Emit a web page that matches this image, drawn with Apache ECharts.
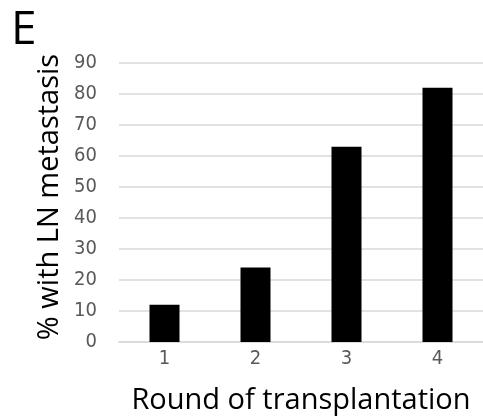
<!DOCTYPE html>
<html>
<head>
<meta charset="utf-8">
<script src="https://cdn.jsdelivr.net/npm/echarts@6/dist/echarts.min.js"></script>
<style>
  html, body { margin: 0; padding: 0; background: #fff; }
  #chart { width: 483px; height: 420px; }
</style>
</head>
<body>
<div id="chart"></div>
<script>
// data
const rounds = ['1', '2', '3', '4'];
const lnPercent = [12, 24, 63, 82];
const yTicks = { min: 0, max: 90, interval: 10 };

const narrow = "'Liberation Sans Narrow', 'DejaVu Sans Condensed', sans-serif";
const chart = echarts.init(document.getElementById('chart'));
chart.setOption({
  animation: false,
  grid: { left: 119, right: 0, top: 63, bottom: 68 },
  xAxis: {
    type: 'category',
    data: rounds,
    name: 'Round of transplantation',
    nameLocation: 'middle',
    nameGap: 44,
    nameTextStyle: { color: '#000', fontSize: 29, fontFamily: "'Open Sans', sans-serif" },
    axisLine: { lineStyle: { color: '#d9d9d9', width: 1.5 } },
    axisTick: { show: false },
    axisLabel: { color: '#595959', fontSize: 20, fontFamily: narrow, margin: 7 }
  },
  yAxis: {
    type: 'value',
    min: yTicks.min,
    max: yTicks.max,
    interval: yTicks.interval,
    axisLine: { show: false },
    axisTick: { show: false },
    axisLabel: { color: '#595959', fontSize: 20, fontFamily: narrow, margin: 22 },
    splitLine: { lineStyle: { color: '#d9d9d9', width: 1.5 } }
  },
  series: [{
    type: 'bar',
    data: lnPercent,
    barWidth: 30,
    itemStyle: { color: '#000' }
  }],
  graphic: [
    {
      type: 'text', left: 11, top: 8,
      style: { text: 'E', fontSize: 46, fill: '#000', fontFamily: "'Open Sans', sans-serif" }
    },
    {
      type: 'text', x: 50, y: 197, rotation: Math.PI / 2,
      style: {
        text: '% with LN metastasis', fontSize: 29, fill: '#000',
        fontFamily: "'Open Sans', sans-serif", align: 'center', verticalAlign: 'middle'
      }
    }
  ]
});
</script>
</body>
</html>
